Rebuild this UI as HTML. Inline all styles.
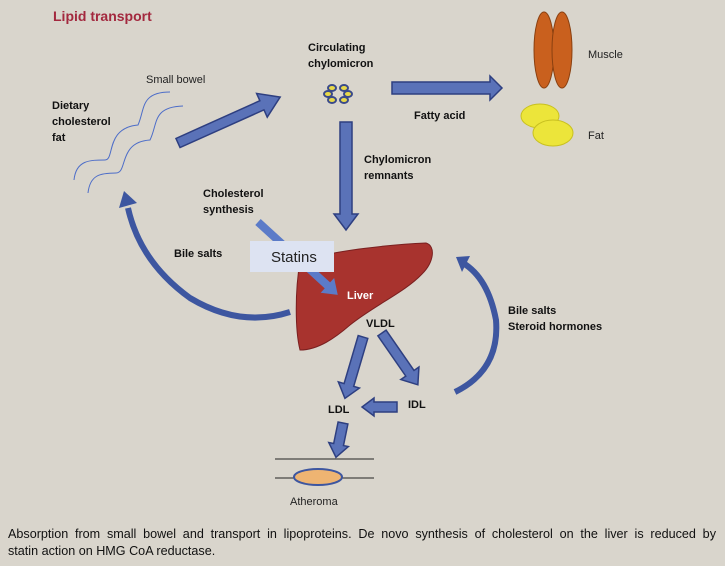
<!DOCTYPE html>
<html><head><meta charset="utf-8"><style>
html,body{margin:0;padding:0;background:#d9d5cc;}
svg{display:block;}
.b{font-family:"Liberation Sans",sans-serif;font-weight:bold;font-size:11px;fill:#111;}
.n{font-family:"Liberation Sans",sans-serif;font-size:11px;fill:#222;}
.cap{position:absolute;left:8px;width:708px;font-family:"Liberation Sans",sans-serif;font-size:12.6px;line-height:17px;color:#111;white-space:nowrap;}
</style></head><body>
<div style="position:relative;width:725px;height:566px;overflow:hidden;">
<svg width="725" height="566" viewBox="0 0 725 566">
<text x="53" y="21" style="font-family:'Liberation Sans',sans-serif;font-weight:bold;font-size:14px;fill:#a3283e">Lipid transport</text>
<text x="146" y="83" class="n">Small bowel</text>
<text x="52" y="109" class="b">Dietary</text>
<text x="52" y="125" class="b">cholesterol</text>
<text x="52" y="141" class="b">fat</text>
<path d="M74,180 C76,160 90,160 105,160 C115,160 105,128 138,125 C145,110 140,92 170,92" fill="none" stroke="#4d6dc8" stroke-width="1"/>
<path d="M88,193 C90,175 100,173 116,173 C128,173 118,142 150,140 C158,124 152,107 183,106" fill="none" stroke="#4d6dc8" stroke-width="1"/>
<text x="308" y="51" class="b">Circulating</text>
<text x="308" y="67" class="b">chylomicron</text>
<g fill="#e8d94a" stroke="#3a4a8a" stroke-width="2">
<ellipse cx="332" cy="88" rx="4" ry="3"/><ellipse cx="344" cy="88" rx="4" ry="3"/>
<ellipse cx="328" cy="94" rx="4" ry="3"/><ellipse cx="348" cy="94" rx="4" ry="3"/>
<ellipse cx="332" cy="100" rx="4" ry="3"/><ellipse cx="344" cy="100" rx="4" ry="3"/>
</g>
<g fill="#5a72b8" stroke="#2e3f80" stroke-width="1.5">
<polygon transform="translate(178,143) rotate(-24.2)" points="0,-5 0,5 92,5 92,13 112,0 92,-13 92,-5"/>
<polygon transform="translate(392,88) rotate(0)" points="0,-6 0,6 98,6 98,12 110,0 98,-12 98,-6"/>
<polygon transform="translate(346,122) rotate(90)" points="0,-6 0,6 92,6 92,12 108,0 92,-12 92,-6"/>
<polygon transform="translate(363,337) rotate(106.4)" points="0,-5 0,5 50,5 50,11 64,0 50,-11 50,-5"/>
<polygon transform="translate(382,333) rotate(55.3)" points="0,-5 0,5 49,5 49,11 63,0 49,-11 49,-5"/>
<polygon transform="translate(397,407) rotate(180)" points="0,-5 0,5 23,5 23,9 35,0 23,-9 23,-5"/>
<polygon transform="translate(343,423) rotate(101.6)" points="0,-5 0,5 22,5 22,10 35,0 22,-10 22,-5"/>
</g>
<text x="414" y="119" class="b">Fatty acid</text>
<text x="364" y="163" class="b">Chylomicron</text>
<text x="364" y="179" class="b">remnants</text>
<ellipse cx="544" cy="50" rx="10" ry="38" fill="#c9601e" stroke="#8a4010"/>
<ellipse cx="562" cy="50" rx="10" ry="38" fill="#c9601e" stroke="#8a4010"/>
<text x="588" y="58" class="n">Muscle</text>
<g fill="#ece53a" stroke="#c8c020">
<ellipse cx="540" cy="116" rx="19" ry="12"/><ellipse cx="553" cy="133" rx="20" ry="13"/>
</g>
<text x="588" y="139" class="n">Fat</text>
<text x="203" y="197" class="b">Cholesterol</text>
<text x="203" y="213" class="b">synthesis</text>
<path d="M300,262 C330,250 400,244 426,243 C436,246 434,262 422,274 C405,292 375,305 350,325 C335,338 318,350 300,350 C295,330 295,290 300,262 Z" fill="#a8332e" stroke="#7a2020"/>
<polygon transform="translate(258,222) rotate(42.4)" points="0,-4 0,4 94,4 94,10 108,0 94,-10 94,-4" fill="#5b7bc8"/>
<rect x="250" y="241" width="84" height="31" fill="#dde3f2"/>
<text x="271" y="262" style="font-family:'Liberation Sans',sans-serif;font-size:15px;fill:#222">Statins</text>
<text x="347" y="299" style="font-family:'Liberation Sans',sans-serif;font-weight:bold;font-size:11px;fill:#fff">Liver</text>
<text x="174" y="257" class="b">Bile salts</text>
<path d="M290,312 Q240,328 190,298 Q140,262 128,208" fill="none" stroke="#3d56a0" stroke-width="6"/>
<polygon points="119,208 137,203 124,191" fill="#3d56a0"/>
<path d="M455,392 Q500,370 496,320 Q488,278 463,263" fill="none" stroke="#3d56a0" stroke-width="6"/>
<polygon points="456,257 470,256 462,272" fill="#3d56a0"/>
<text x="508" y="314" class="b">Bile salts</text>
<text x="508" y="330" class="b">Steroid hormones</text>
<text x="366" y="327" class="b">VLDL</text>
<text x="408" y="408" class="b">IDL</text>
<text x="328" y="413" class="b">LDL</text>
<line x1="275" y1="459" x2="374" y2="459" stroke="#222"/>
<line x1="275" y1="478" x2="374" y2="478" stroke="#222"/>
<ellipse cx="318" cy="477" rx="24" ry="8" fill="#eeb472" stroke="#3d56a0" stroke-width="2"/>
<text x="290" y="505" class="n">Atheroma</text>
</svg>
<div class="cap" style="top:526px;text-align:justify;text-align-last:justify;">Absorption from small bowel and transport in lipoproteins. De novo synthesis of cholesterol on the liver is reduced by</div>
<div class="cap" style="top:543px;">statin action on HMG CoA reductase.</div>
</div>
</body></html>
